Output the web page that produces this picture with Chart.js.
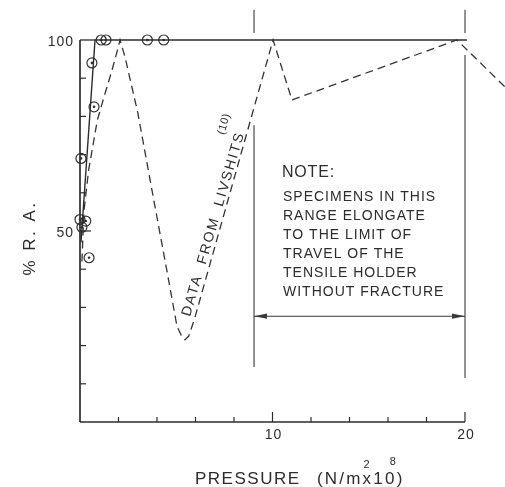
<!DOCTYPE html>
<html>
<head>
<meta charset="utf-8">
<script src="https://cdn.jsdelivr.net/npm/chart.js@4.4.1/dist/chart.umd.min.js"></script>
<style>
  html, body { margin: 0; padding: 0; background: #ffffff; }
  #wrap { width: 505px; height: 487px; }
</style>
</head>
<body>
<div id="wrap"><canvas id="chart" width="505" height="487"></canvas></div>
<script>
// Axis ticks (pressure in N/m^2 x 10^8, reduction of area in %)
const xTicks = [2, 4, 6, 8, 10, 12, 14, 16, 18, 20];
const xLabelTicks = [10, 20];
const yTicks = [10, 20, 30, 40, 50, 60, 70, 80, 90];
const yLabelTicks = [50, 100];

// Test specimens (circled points)
const testPressure = [1.1, 1.35, 3.5, 4.35, 0.62, 0.73, 0.05, 0.0, 0.3, 0.1, 0.47];
const testRA       = [100, 100, 100, 100, 94, 82.5, 69, 53, 52.6, 51, 43];

// Curve faired through the test points
const fitPressure = [0.05, 0.78, 20.1];
const fitRA       = [47, 100, 100];

// Livshits data (dashed curve)
const livPressure = [0.1, 0.2, 0.45, 0.9, 1.3, 1.6, 1.85, 2.08, 2.34, 3.0, 3.8, 4.5, 5.04, 5.3, 5.45, 5.65, 5.95, 10.03, 11.01, 19.58, 22.08];
const livRA       = [42, 55, 66, 79, 86, 91, 95.5, 100, 95.5, 81, 59, 40, 25, 22.3, 21.5, 22.5, 27, 100, 84.3, 100, 87.7];

// Vertical bracket lines of the "no fracture" range, drawn in pieces
const bracketLines = [
  { x: 9.04, from: 107.9, to: 101.8 },
  { x: 9.04, from: 77.7, to: 14.4 },
  { x: 20.0, from: 107.9, to: 101.8 },
  { x: 20.0, from: 96.1, to: 11.5 }
];
const bracketArrow = { from: 9.04, to: 20.0, y: 27.7 };

const noteLines = ['SPECIMENS IN THIS', 'RANGE ELONGATE', 'TO THE LIMIT OF', 'TRAVEL OF THE', 'TENSILE HOLDER', 'WITHOUT FRACTURE'];

const zip = (xs, ys) => xs.map((x, i) => ({ x, y: ys[i] }));

const INK = '#2c2c2c';
const FONT = "'Liberation Sans', Arial, Helvetica, sans-serif";

function line(ctx, x1, y1, x2, y2) {
  ctx.beginPath();
  ctx.moveTo(x1, y1);
  ctx.lineTo(x2, y2);
  ctx.stroke();
}

const framePlugin = {
  id: 'frame',
  beforeDatasetsDraw(chart) {
    const { ctx, scales: { x, y } } = chart;
    ctx.save();
    ctx.strokeStyle = INK;
    ctx.lineWidth = 1.7;
    // axes and top border
    line(ctx, x.getPixelForValue(0), y.getPixelForValue(0), x.getPixelForValue(0), y.getPixelForValue(100));
    line(ctx, x.getPixelForValue(0), y.getPixelForValue(0), x.getPixelForValue(20), y.getPixelForValue(0));
    ctx.lineWidth = 1.3;
    line(ctx, x.getPixelForValue(0), y.getPixelForValue(100), x.getPixelForValue(0.8), y.getPixelForValue(100));
    // inward ticks
    ctx.lineWidth = 1.2;
    const x0 = x.getPixelForValue(0), y0 = y.getPixelForValue(0);
    yTicks.forEach(v => {
      const len = v === 50 ? 11 : 6;
      const py = y.getPixelForValue(v);
      line(ctx, x0, py, x0 + len, py);
    });
    xTicks.forEach(v => {
      const len = v % 10 === 0 ? 10 : 5;
      const px = x.getPixelForValue(v);
      line(ctx, px, y0, px, y0 - len);
    });
    // bracket lines
    ctx.strokeStyle = '#3a3a3a';
    ctx.lineWidth = 1.1;
    bracketLines.forEach(b => {
      line(ctx, x.getPixelForValue(b.x), y.getPixelForValue(b.from), x.getPixelForValue(b.x), y.getPixelForValue(b.to));
    });
    // double-headed arrow
    const ax1 = x.getPixelForValue(bracketArrow.from), ax2 = x.getPixelForValue(bracketArrow.to);
    const ay = y.getPixelForValue(bracketArrow.y);
    line(ctx, ax1, ay, ax2, ay);
    ctx.fillStyle = '#3a3a3a';
    ctx.beginPath();
    ctx.moveTo(ax1, ay); ctx.lineTo(ax1 + 13, ay - 2.6); ctx.lineTo(ax1 + 13, ay + 2.6); ctx.closePath(); ctx.fill();
    ctx.beginPath();
    ctx.moveTo(ax2, ay); ctx.lineTo(ax2 - 13, ay - 2.6); ctx.lineTo(ax2 - 13, ay + 2.6); ctx.closePath(); ctx.fill();
    ctx.restore();
  },
  afterDraw(chart) {
    const { ctx, scales: { x, y } } = chart;
    ctx.save();
    ctx.fillStyle = INK;
    ctx.textBaseline = 'alphabetic';

    // tick labels
    ctx.font = `14px ${FONT}`;
    ctx.letterSpacing = '1px';
    ctx.textAlign = 'right';
    yLabelTicks.forEach(v => {
      ctx.fillText(String(v), x.getPixelForValue(0) - 6, y.getPixelForValue(v) + 6);
    });
    ctx.textAlign = 'center';
    xLabelTicks.forEach(v => {
      ctx.fillText(String(v), x.getPixelForValue(v) + 1, y.getPixelForValue(0) + 17);
    });

    // y title
    ctx.save();
    ctx.translate(35, 238);
    ctx.rotate(-Math.PI / 2);
    ctx.font = `17px ${FONT}`;
    ctx.letterSpacing = '2.5px';
    ctx.textAlign = 'center';
    ctx.fillText('% R. A.', 0, 0);
    ctx.restore();

    // x title with superscripts
    ctx.font = `17px ${FONT}`;
    ctx.letterSpacing = '1.5px';
    ctx.textAlign = 'left';
    const tx = 195, ty = 484;
    ctx.fillText('PRESSURE', tx, ty);
    const tx2 = 317;
    ctx.letterSpacing = '2.2px';
    ctx.fillText('(N/mx10)', tx2, ty);
    const wM = ctx.measureText('(N/m').width;
    const wTen = ctx.measureText('(N/mx1').width;
    const wZero = ctx.measureText('(N/mx10').width;
    ctx.font = `11px ${FONT}`;
    ctx.letterSpacing = '0px';
    ctx.textAlign = 'center';
    ctx.fillText('2', tx2 + wM + 4, ty - 16);
    ctx.fillText('8', tx2 + (wTen + wZero - 2.2) / 2 + 3, ty - 19);

    // note block
    ctx.textAlign = 'left';
    ctx.font = `16px ${FONT}`;
    ctx.letterSpacing = '0.8px';
    ctx.fillText('NOTE:', 282, 177);
    ctx.font = `14px ${FONT}`;
    ctx.letterSpacing = '1px';
    noteLines.forEach((t, i) => ctx.fillText(t, 283, 201 + i * 19));

    // label along the dashed curve
    ctx.save();
    ctx.translate(190, 317);
    ctx.rotate(-73.5 * Math.PI / 180);
    ctx.font = `14px ${FONT}`;
    const label = 'DATA  FROM  LIVSHITS';
    ctx.letterSpacing = '0px';
    const w0 = ctx.measureText(label).width;
    const spacing = (190 - w0) / (label.length - 1);
    ctx.letterSpacing = spacing.toFixed(2) + 'px';
    ctx.textAlign = 'left';
    ctx.fillText(label, 0, 0);
    ctx.font = `11px ${FONT}`;
    ctx.letterSpacing = '0.5px';
    ctx.fillText('(10)', 184, -19);
    ctx.restore();

    ctx.restore();
  }
};

new Chart(document.getElementById('chart'), {
  type: 'line',
  data: {
    datasets: [
      {
        label: 'Livshits',
        data: zip(livPressure, livRA),
        borderColor: '#333',
        borderWidth: 1.3,
        borderDash: [8, 5],
        borderJoinStyle: 'miter',
        pointRadius: 0,
        tension: 0,
        fill: false,
        clip: false
      },
      {
        label: 'Faired curve',
        data: zip(fitPressure, fitRA),
        borderColor: INK,
        borderWidth: 1.4,
        pointRadius: 0,
        tension: 0,
        fill: false,
        clip: false
      },
      {
        label: 'Specimen centres',
        data: zip(testPressure, testRA),
        showLine: false,
        pointStyle: 'circle',
        pointRadius: 1.3,
        pointBorderWidth: 0,
        pointBackgroundColor: '#333',
        clip: false
      },
      {
        label: 'Specimens',
        data: zip(testPressure, testRA),
        showLine: false,
        pointStyle: 'circle',
        pointRadius: 5,
        pointBorderWidth: 1.2,
        pointBorderColor: '#333',
        pointBackgroundColor: 'rgba(255,255,255,0)',
        clip: false
      }
    ]
  },
  options: {
    responsive: false,
    animation: false,
    devicePixelRatio: 1,
    layout: { padding: { left: 80, right: 40, top: 40, bottom: 65 } },
    plugins: { legend: { display: false }, tooltip: { enabled: false } },
    scales: {
      x: { type: 'linear', min: 0, max: 20, display: false },
      y: { type: 'linear', min: 0, max: 100, display: false }
    }
  },
  plugins: [framePlugin]
});
</script>
</body>
</html>
